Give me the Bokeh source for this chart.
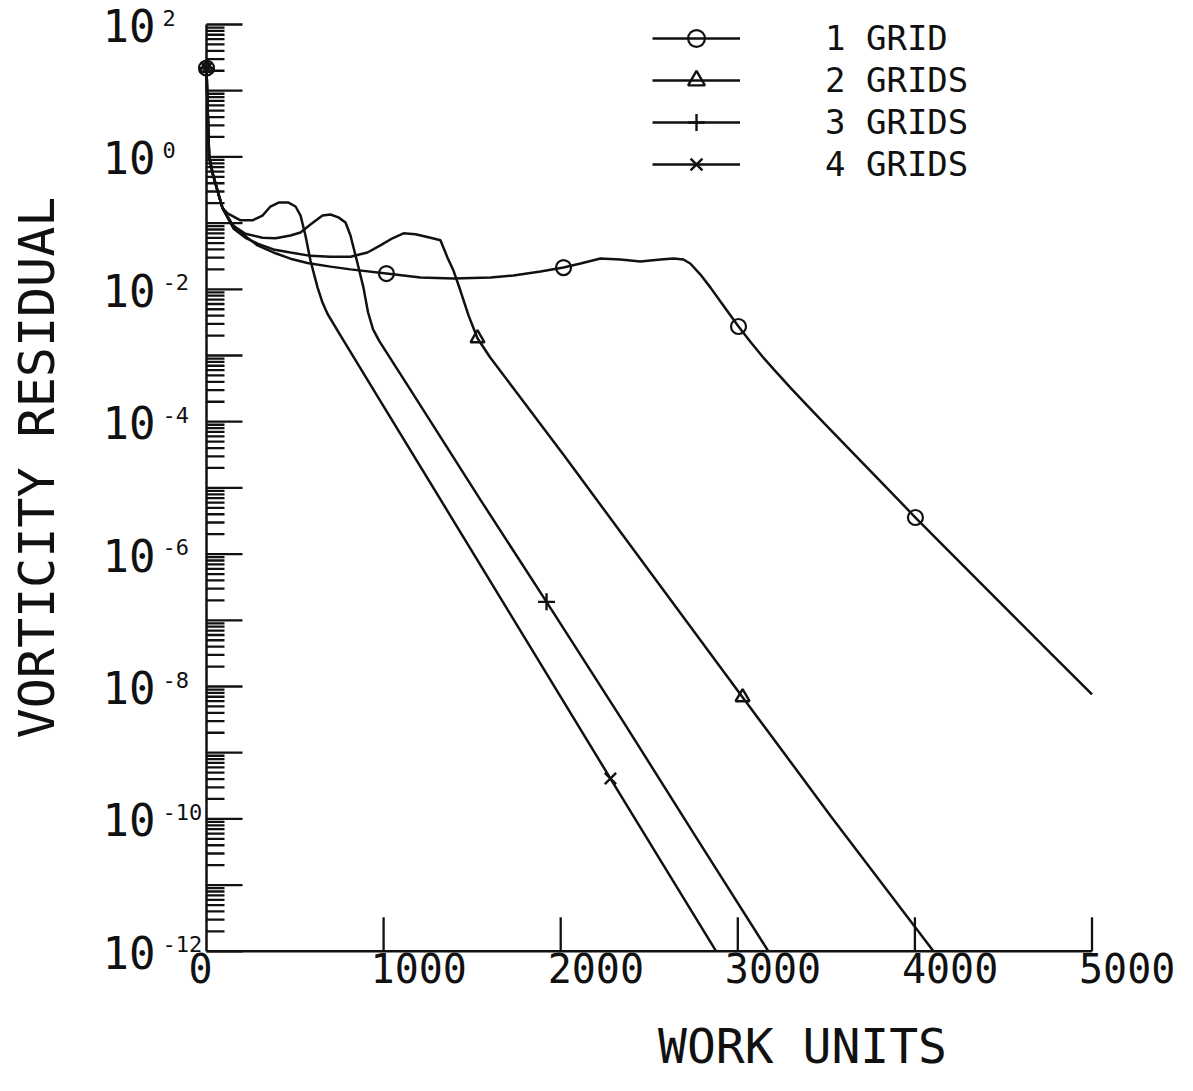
import math
from bokeh.plotting import figure
from bokeh.models import Range1d, Legend, LegendItem, Label
from bokeh.embed import file_html
from bokeh.resources import INLINE
from bokeh.core.properties import value

# ---------------- data (work units, vorticity residual) ----------------
g1_x = [0, 5, 15, 35, 62, 90, 136, 192, 288, 390, 474, 570, 700, 813,
        1016, 1208, 1395, 1604, 1733, 1886, 2016, 2112, 2225, 2337, 2450, 2564,
        2637, 2693, 2733, 2789, 2846, 2902, 2959, 3004, 3072, 3139, 3202, 3298,
        3394, 3487, 3580, 3766, 4003, 4387, 4766, 5000]
g1_y = [22.0, 7.1, 1.0, 0.56, 0.31, 0.17, 0.102, 0.072, 0.046, 0.035, 0.029,
        0.025, 0.022, 0.020, 0.0173, 0.0151, 0.0146, 0.0151, 0.0162, 0.0186,
        0.0213, 0.0245, 0.0292, 0.0282, 0.0263, 0.0282, 0.0292, 0.0282, 0.0243,
        0.0167, 0.0106, 6.55e-3, 4.02e-3, 2.74e-3, 1.60e-3, 9.66e-4, 6.21e-4,
        3.24e-4, 1.74e-4, 9.55e-5, 5.25e-5, 1.62e-5, 3.57e-6, 3.3e-7, 3.2e-8,
        7.6e-9]

g2_x = [0, 5, 15, 35, 62, 90, 152, 220, 288, 378, 474, 587, 700, 813, 909, 982,
        1050, 1112, 1180, 1265, 1321, 1361, 1395, 1434, 1480, 1530, 1600, 1733,
        2016, 2394, 3027, 3523, 4105]
g2_y = [22.0, 7.1, 1.0, 0.56, 0.31, 0.17, 0.083, 0.060, 0.049, 0.040, 0.036,
        0.032, 0.031, 0.031, 0.036, 0.046, 0.059, 0.070, 0.068, 0.060, 0.055,
        0.030, 0.019, 9.5e-3, 4.0e-3, 1.82e-3, 9.5e-4, 3.2e-4, 3.16e-5, 1.35e-6,
        6.9e-9, 1.12e-10, 1.0e-12]

g3_x = [0, 5, 15, 35, 62, 90, 152, 220, 316, 390, 474, 531, 587, 655, 700, 745,
        785, 813, 853, 886, 912, 940, 975, 1169, 1547, 1920, 2355, 2772, 3173]
g3_y = [22.0, 7.1, 1.0, 0.56, 0.31, 0.17, 0.091, 0.069, 0.060, 0.059, 0.065,
        0.072, 0.095, 0.13, 0.135, 0.122, 0.102, 0.065, 0.0245, 0.0107, 4.5e-3,
        2.5e-3, 1.66e-3, 2.57e-4, 6.6e-6, 1.9e-7, 2.9e-9, 4.9e-11, 1.0e-12]

g4_x = [0, 5, 15, 35, 62, 90, 119, 192, 260, 316, 361, 407, 463, 503, 531, 559,
        587, 627, 655, 683, 757, 982, 1361, 1773, 2281, 2878]
g4_y = [22.0, 7.1, 1.0, 0.56, 0.31, 0.17, 0.14, 0.11, 0.11, 0.13, 0.178, 0.204,
        0.204, 0.178, 0.13, 0.0646, 0.0272, 0.0107, 6.3e-3, 4.27e-3, 2.0e-3,
        2.04e-4, 4.47e-6, 6.9e-8, 4.07e-10, 1.0e-12]

# marker points
m1_x = [0, 1016, 2016, 3004, 4003]
m1_y = [22.0, 0.0173, 0.0213, 2.74e-3, 3.57e-6]
m2_x = [0, 1530, 3027]
m2_y = [22.0, 1.82e-3, 6.9e-9]
m3_x = [0, 1920]
m3_y = [22.0, 1.9e-7]
m4_x = [0, 2281]
m4_y = [22.0, 4.07e-10]

series_labels = ["1 GRID", "2 GRIDS", "3 GRIDS", "4 GRIDS"]

# axes
x_axis_ext = [0, 5000]
y_axis_ext = [1e-12, 1e2]
x_ticks = [1000, 2000, 3000, 4000, 5000]
x_tick_labels = ["1000", "2000", "3000", "4000", "5000"]
y_major = [10.0 ** k for k in range(-12, 3)]
y_minor = [m * 10.0 ** k for k in range(-12, 2) for m in range(2, 10)]
y_label_vals = [1e2, 1e0, 1e-2, 1e-4, 1e-6, 1e-8, 1e-10, 1e-12]
y_label_exps = ["2", "0", "-2", "-4", "-6", "-8", "-10", "-12"]

# ---------------- layout ----------------
W, H = 1177, 1075
X0_PX = 206.0          # canvas px of x = 0
PX_PER_UNIT = 0.1771
Y_TOP_PX = 24.0        # canvas px of 1e2
PX_PER_DEC = 66.2

x_start = -X0_PX / PX_PER_UNIT
x_end = x_start + W / PX_PER_UNIT
y_hi = 10 ** (2 + Y_TOP_PX / PX_PER_DEC)
y_lo = 10 ** (2 - (H - Y_TOP_PX) / PX_PER_DEC)

FONT = value("DejaVu Sans Mono")
INK = "#111111"

p = figure(width=W, height=H, x_range=Range1d(x_start, x_end),
           y_range=Range1d(y_lo, y_hi), y_axis_type="log",
           x_axis_location=None, y_axis_location=None,
           toolbar_location=None, output_backend="svg", min_border=0,
           outline_line_color=None, background_fill_color="white")
p.grid.visible = False

# axis lines
p.line(x=x_axis_ext, y=[y_axis_ext[0]] * 2, line_color=INK, line_width=2.5)
p.line(x=[0, 0], y=y_axis_ext, line_color=INK, line_width=2.5)

# ticks
p.ray(x=[0] * len(y_major), y=y_major, length=36, angle=0,
      length_units="screen", line_color=INK, line_width=2.3)
p.ray(x=[0] * len(y_minor), y=y_minor, length=18, angle=0,
      length_units="screen", line_color=INK, line_width=2.3)
p.ray(x=x_ticks, y=[y_axis_ext[0]] * len(x_ticks), length=34,
      angle=math.pi / 2, length_units="screen", line_color=INK, line_width=2.3)

# tick labels
p.text(x=x_ticks, y=[y_axis_ext[0]] * len(x_ticks), text=x_tick_labels,
       text_font=FONT, text_font_size="40px", text_color=INK,
       text_align="left", text_baseline="middle", x_offset=-13, y_offset=17)
p.text(x=[0], y=[y_axis_ext[0]], text=["0"],
       text_font=FONT, text_font_size="40px", text_color=INK,
       text_align="center", text_baseline="middle", x_offset=-6, y_offset=17)
p.text(x=[0] * len(y_label_vals), y=y_label_vals, text=["10"] * len(y_label_vals),
       text_font=FONT, text_font_size="44px", text_color=INK,
       text_align="left", text_baseline="middle", x_offset=-104, y_offset=1)
p.text(x=[0] * len(y_label_vals), y=y_label_vals, text=y_label_exps,
       text_font=FONT, text_font_size="22px", text_color=INK,
       text_align="left", text_baseline="middle", x_offset=-44, y_offset=-7)

# curves
lw = 2.5
r1 = p.line(g1_x, g1_y, line_color=INK, line_width=lw)
r2 = p.line(g2_x, g2_y, line_color=INK, line_width=lw)
r3 = p.line(g3_x, g3_y, line_color=INK, line_width=lw)
r4 = p.line(g4_x, g4_y, line_color=INK, line_width=lw)
k1 = p.scatter(m1_x, m1_y, marker="circle", size=15, fill_color=None,
               line_color=INK, line_width=2.2)
k2 = p.scatter(m2_x, m2_y, marker="triangle", size=14, fill_color=None,
               line_color=INK, line_width=2.4)
k3 = p.scatter(m3_x, m3_y, marker="cross", size=17, line_color=INK, line_width=2.4)
k4 = p.scatter(m4_x, m4_y, marker="x", size=16, line_color=INK, line_width=2.4)

legend = Legend(
    items=[LegendItem(label=series_labels[0], renderers=[r1, k1]),
           LegendItem(label=series_labels[1], renderers=[r2, k2]),
           LegendItem(label=series_labels[2], renderers=[r3, k3]),
           LegendItem(label=series_labels[3], renderers=[r4, k4])],
    location=(652, H - 185), orientation="vertical",
    glyph_width=88, glyph_height=42, label_height=42, label_width=10,
    label_standoff=85, spacing=0, padding=0, margin=0,
    border_line_color=None, background_fill_alpha=0,
    label_text_font="DejaVu Sans Mono", label_text_font_size="34px",
    label_text_color=INK, label_text_baseline="middle")
p.add_layout(legend)

# axis titles
p.add_layout(Label(x=802, y=H - 1045, x_units="screen", y_units="screen",
                   text="WORK UNITS", text_font="DejaVu Sans Mono",
                   text_font_size="48px", text_color=INK,
                   text_align="center", text_baseline="middle"))
p.add_layout(Label(x=36, y=H - 467, x_units="screen", y_units="screen",
                   text="VORTICITY RESIDUAL", angle=math.pi / 2,
                   text_font="DejaVu Sans Mono", text_font_size="50px",
                   text_color=INK, text_align="center", text_baseline="middle"))

open("out.html", "w").write(file_html(p, INLINE))
